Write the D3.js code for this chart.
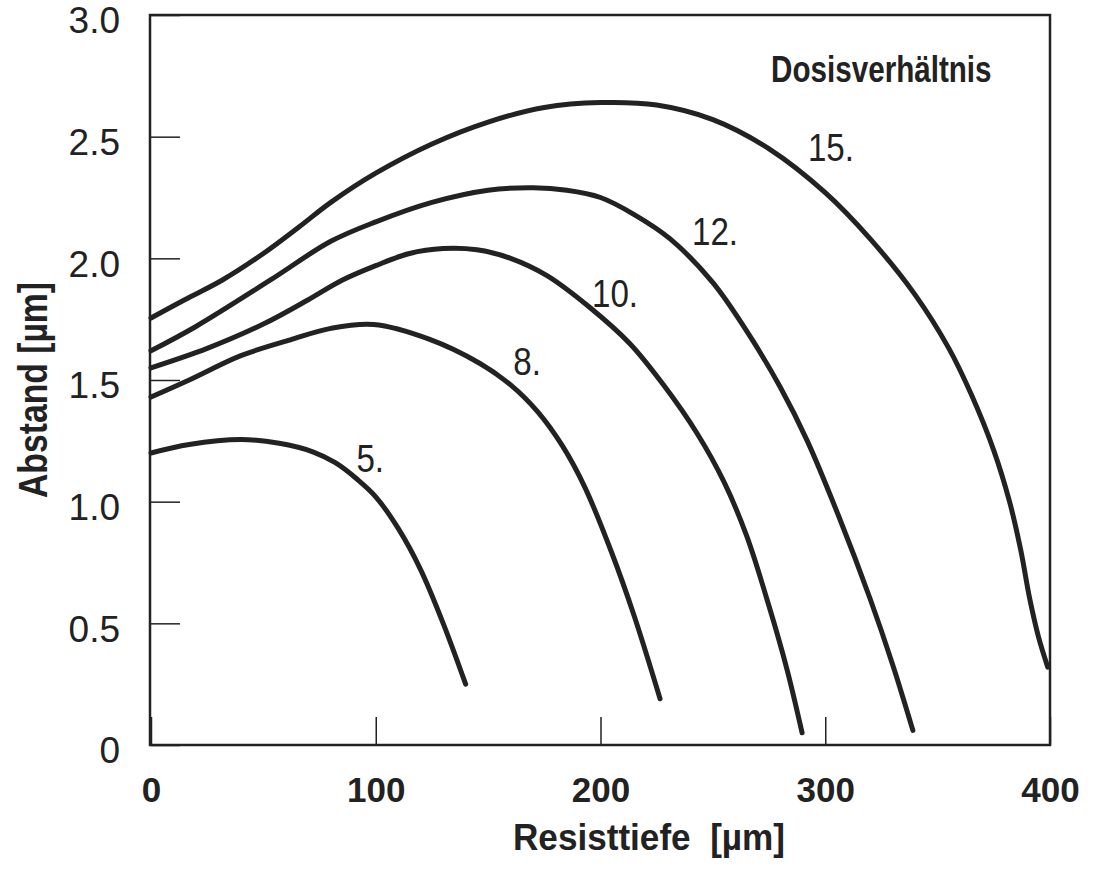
<!DOCTYPE html>
<html>
<head>
<meta charset="utf-8">
<script src="https://cdn.jsdelivr.net/npm/d3@7"></script>
<style>
  body { margin: 0; background: #fff; }
  svg { display: block; }
  .tick line { stroke: #222; stroke-width: 1.5; }
  .tick text { fill: #222; font-family: "Liberation Sans", Arial, sans-serif; }
  .curve { fill: none; stroke: #222; stroke-width: 5; stroke-linecap: round; stroke-linejoin: round; }
  .lbl { fill: #222; font-family: "Liberation Sans", Arial, sans-serif; }
</style>
</head>
<body>
<script>
// Dosis ratio curves: depth [µm] vs. distance [µm]
const dose5 = [[0,1.20],[17,1.235],[40,1.255],[57,1.24],[72,1.205],[82,1.16],[92,1.09],[100,1.02],[110,0.89],[120,0.72],[130,0.50],[140,0.25]];
const dose8 = [[0,1.43],[17,1.50],[40,1.60],[62,1.665],[80,1.712],[99,1.728],[124,1.667],[146,1.57],[160,1.48],[172,1.37],[183,1.23],[193,1.06],[205,0.79],[215,0.53],[226.5,0.19]];
const dose10 = [[0,1.55],[25,1.63],[50,1.73],[70,1.83],[85,1.91],[100,1.97],[115,2.02],[130,2.04],[145,2.035],[160,2.00],[176,1.93],[195,1.80],[213,1.65],[228,1.48],[243,1.28],[255,1.08],[265,0.86],[275,0.57],[283,0.31],[289.7,0.05]];
const dose12 = [[0,1.62],[20,1.72],[53,1.91],[80,2.07],[100,2.15],[125,2.23],[150,2.28],[170,2.29],[185,2.28],[200,2.25],[215,2.18],[231,2.08],[250,1.90],[266.5,1.68],[280,1.47],[292,1.25],[306,0.94],[320,0.60],[330,0.33],[339,0.06]];
const dose15 = [[0,1.755],[15,1.83],[31.6,1.91],[50,2.02],[66,2.13],[80,2.23],[100,2.35],[125,2.47],[150,2.56],[175,2.62],[200,2.64],[225,2.63],[250,2.57],[275,2.45],[300,2.27],[320,2.08],[340,1.85],[355,1.63],[365,1.44],[375,1.21],[382,1.00],[387,0.80],[391,0.60],[395,0.44],[399,0.32]];

const curveNames = ["5.", "8.", "10.", "12.", "15."];
// label anchors (end of text, baseline) in data units
const labelAt = [[103.7,1.12],[173.5,1.52],[216.7,1.80],[261.2,2.055],[312.8,2.40]];

const xTicks = [0, 100, 200, 300, 400];
const yTicks = [0, 0.5, 1.0, 1.5, 2.0, 2.5, 3.0];
const yTickLabels = ["0", "0.5", "1.0", "1.5", "2.0", "2.5", "3.0"];

const W = 1097, H = 872;
const svg = d3.select("body").append("svg").attr("width", W).attr("height", H);

const x = d3.scaleLinear().domain([0, 400]).range([151, 1050]);
const y = d3.scaleLinear().domain([0, 3]).range([745, 15]);

// squeeze text horizontally to imitate a condensed face
function condense(sel, k) {
  sel.each(function() {
    const w = this.getComputedTextLength();
    d3.select(this).attr("textLength", w * k).attr("lengthAdjust", "spacingAndGlyphs");
  });
}

// axes (ticks pointing inward)
const gx = svg.append("g")
  .attr("transform", `translate(0,${y(0)})`)
  .call(d3.axisBottom(x).tickValues(xTicks).tickSize(-28).tickPadding(32).tickFormat(d3.format("d")));
gx.select(".domain").remove();
gx.selectAll(".tick text").attr("font-size", 35).attr("font-weight", "bold").attr("dy", "0.72em");

const gy = svg.append("g")
  .attr("transform", `translate(${x(0)},0)`)
  .call(d3.axisLeft(y).tickValues(yTicks).tickSize(-29).tickPadding(31).tickFormat((d, i) => yTickLabels[i]));
gy.select(".domain").remove();
gy.selectAll(".tick text").attr("font-size", 37).attr("dy", "0.48em");

// frame
svg.append("rect")
  .attr("x", x(0) - 1).attr("y", y(3))
  .attr("width", x(400) - x(0) + 1).attr("height", y(0) - y(3))
  .attr("fill", "none").attr("stroke", "#222").attr("stroke-width", 2.5);

// curves
const line = d3.line().x(d => x(d[0])).y(d => y(d[1])).curve(d3.curveCatmullRom.alpha(0.5));
const series = [dose5, dose8, dose10, dose12, dose15];
svg.selectAll(".curve").data(series).join("path")
  .attr("class", "curve")
  .attr("d", line);

// curve labels
svg.selectAll(".clbl").data(curveNames).join("text")
  .attr("class", "lbl clbl")
  .attr("x", (d, i) => x(labelAt[i][0]))
  .attr("y", (d, i) => y(labelAt[i][1]))
  .attr("text-anchor", "end")
  .attr("font-size", 39)
  .text(d => d)
  .call(condense, 0.85);

svg.append("text")
  .attr("class", "lbl")
  .attr("x", x(374)).attr("y", y(2.725))
  .attr("text-anchor", "end")
  .attr("font-size", 37)
  .attr("font-weight", "bold")
  .text("Dosisverhältnis")
  .call(condense, 0.8);

// axis titles
svg.append("text")
  .attr("class", "lbl")
  .attr("x", 513).attr("y", 850)
  .attr("font-size", 37)
  .attr("font-weight", "bold")
  .attr("textLength", 272).attr("lengthAdjust", "spacingAndGlyphs")
  .attr("xml:space", "preserve")
  .text("Resisttiefe  [µm]");

svg.append("text")
  .attr("class", "lbl")
  .attr("transform", "translate(47,390) rotate(-90)")
  .attr("text-anchor", "middle")
  .attr("font-size", 40)
  .attr("font-weight", "bold")
  .attr("textLength", 216).attr("lengthAdjust", "spacingAndGlyphs")
  .text("Abstand [µm]");
</script>
</body>
</html>
